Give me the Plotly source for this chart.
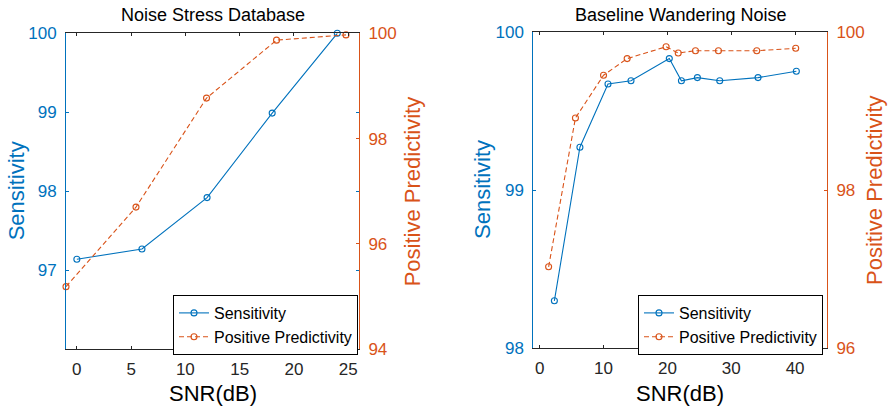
import plotly.graph_objects as go

# ---- data ----
nsd_snr_sens = [0, 6, 12, 18, 24]
nsd_sens = [97.14, 97.27, 97.92, 98.99, 100.0]
nsd_snr_ppv = [-1, 5.45, 11.95, 18.4, 24.8]
nsd_ppv = [95.19, 96.70, 98.77, 99.87, 99.97]

bw_snr_sens = [2.3, 6.3, 10.7, 14.3, 20.3, 22.2, 24.7, 28.2, 34.2, 40.2]
bw_sens = [98.30, 99.27, 99.67, 99.69, 99.83, 99.69, 99.71, 99.69, 99.71, 99.75]
bw_snr_ppv = [1.4, 5.6, 10.0, 13.7, 19.8, 21.7, 24.4, 28.0, 34.0, 40.1]
bw_ppv = [97.03, 98.91, 99.45, 99.66, 99.81, 99.73, 99.76, 99.76, 99.76, 99.79]

nsd_xticks = [0, 5, 10, 15, 20, 25]
nsd_sens_ticks = [97, 98, 99, 100]
nsd_ppv_ticks = [94, 96, 98, 100]
bw_xticks = [0, 10, 20, 30, 40]
bw_sens_ticks = [98, 99, 100]
bw_ppv_ticks = [96, 98, 100]

titles = ["Noise Stress Database", "Baseline Wandering Noise"]
xlabel = "SNR(dB)"
ylabel_l = "Sensitivity"
ylabel_r = "Positive Predictivity"
names = ["Sensitivity", "Positive Predictivity"]

W, H = 890, 410
BLUE = "#0072BD"
ORANGE = "#D95319"
DARK = "#262626"
FONT = "Liberation Sans, Arial, Helvetica, sans-serif"

def px(x):
    return x / W

def py(y):
    return 1 - y / H

# plot boxes (pixels): left, right, top, bottom
box1 = (66, 359, 33.3, 349.3)
box2 = (533.3, 827, 31.7, 348.3)

fig = go.Figure()

def add_series(xs, ys, xa, ya, name, color, dash, legend):
    fig.add_trace(go.Scatter(
        x=xs, y=ys, xaxis=xa, yaxis=ya, name=name, mode="lines+markers",
        line=dict(color=color, width=1.1, dash=dash),
        marker=dict(symbol="circle-open", size=6, color=color, line=dict(width=1.1, color=color)),
        cliponaxis=False, legend=legend, showlegend=True,
    ))

add_series(nsd_snr_sens, nsd_sens, "x", "y", names[0], BLUE, "solid", "legend")
add_series(nsd_snr_ppv, nsd_ppv, "x", "y2", names[1], ORANGE, "5px,3px", "legend")
add_series(bw_snr_sens, bw_sens, "x2", "y3", names[0], BLUE, "solid", "legend2")
add_series(bw_snr_ppv, bw_ppv, "x2", "y4", names[1], ORANGE, "5px,3px", "legend2")

tickfont = dict(family=FONT, size=17)

def xaxis(box, rng, tv, anchor):
    return dict(domain=[px(box[0]), px(box[1])], range=rng, tickvals=tv, anchor=anchor,
                showline=True, linecolor=DARK, linewidth=1, mirror="ticks",
                ticks="inside", ticklen=3, tickcolor=DARK, showgrid=False, zeroline=False,
                tickfont=dict(tickfont, color=DARK), ticklabelstandoff=4, automargin=False)

def yleft(box, rng, tv, anchor):
    return dict(domain=[py(box[3]), py(box[2])], range=rng, tickvals=tv, anchor=anchor,
                showline=True, linecolor=BLUE, linewidth=1, mirror="ticks",
                ticks="inside", ticklen=3, tickcolor=BLUE, showgrid=False, zeroline=False,
                tickfont=dict(tickfont, color=BLUE), ticklabelstandoff=5, automargin=False)

def yright(box, rng, tv, anchor, overlay):
    return dict(domain=[py(box[3]), py(box[2])], range=rng, tickvals=tv, anchor=anchor,
                overlaying=overlay, side="right",
                showline=True, linecolor=ORANGE, linewidth=1,
                ticks="inside", ticklen=3, tickcolor=ORANGE, showgrid=False, zeroline=False,
                tickfont=dict(tickfont, color=ORANGE), ticklabelstandoff=5, automargin=False)

def legend_at(x, y):
    return dict(x=px(x), y=py(y), xanchor="left", yanchor="top", xref="paper", yref="paper",
                bgcolor="white", bordercolor="black", borderwidth=1,
                font=dict(family=FONT, size=16, color="black"), tracegroupgap=0)

fig.update_layout(
    width=W, height=H, margin=dict(l=0, r=0, t=0, b=0, pad=0, autoexpand=False),
    paper_bgcolor="white", plot_bgcolor="white",
    font=dict(family=FONT, color=DARK),
    xaxis=xaxis(box1, [-1, 26], nsd_xticks, "y"),
    yaxis=yleft(box1, [96, 100], nsd_sens_ticks, "x"),
    yaxis2=yright(box1, [94, 100], nsd_ppv_ticks, "x", "y"),
    xaxis2=xaxis(box2, [-1, 45], bw_xticks, "y3"),
    yaxis3=yleft(box2, [98, 100], bw_sens_ticks, "x2"),
    yaxis4=yright(box2, [96, 100], bw_ppv_ticks, "x2", "y3"),
    legend=legend_at(173, 295),
    legend2=legend_at(638, 295),
    showlegend=True,
)

ann = []
for box, t in zip([box1, box2], titles):
    cx = (box[0] + box[1]) / 2
    ann.append(dict(text=t, x=px(cx), y=py(15), xref="paper", yref="paper",
                    showarrow=False, xanchor="center", yanchor="middle",
                    font=dict(family=FONT, size=18, color="black")))
    ann.append(dict(text=xlabel, x=px(cx), y=py(393), xref="paper", yref="paper",
                    showarrow=False, xanchor="center", yanchor="middle",
                    font=dict(family=FONT, size=22, color="black")))
for xpos, box, txt, col in [(16, box1, ylabel_l, BLUE), (412, box1, ylabel_r, ORANGE),
                            (482, box2, ylabel_l, BLUE), (874, box2, ylabel_r, ORANGE)]:
    ann.append(dict(text=txt, x=px(xpos), y=py((box[2] + box[3]) / 2), xref="paper", yref="paper",
                    showarrow=False, textangle=-90, xanchor="center", yanchor="middle",
                    font=dict(family=FONT, size=22, color=col)))
fig.update_layout(annotations=ann)

fig.write_html("out.html")
